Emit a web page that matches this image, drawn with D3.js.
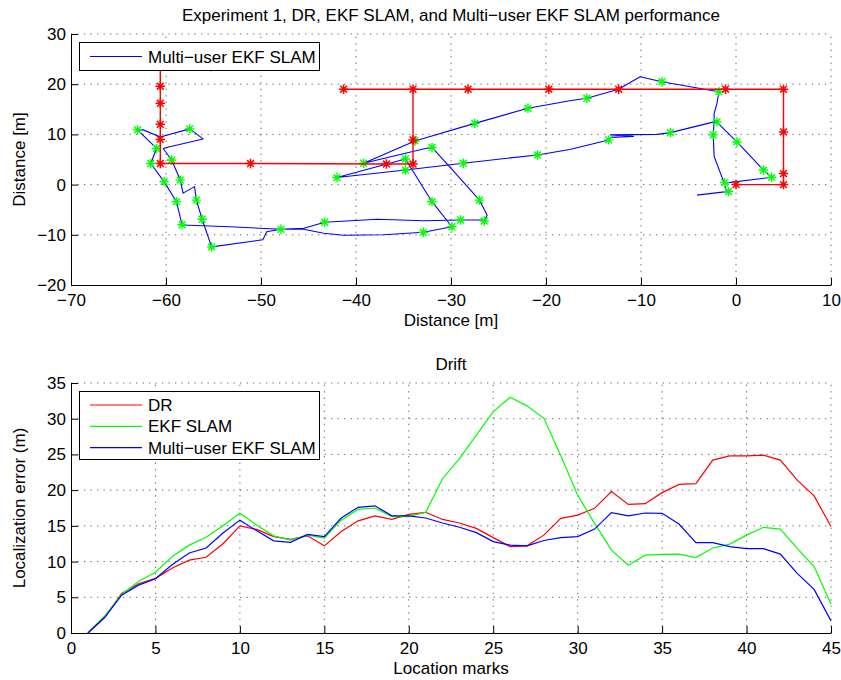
<!DOCTYPE html>
<meta charset="utf-8">
<style>
body { margin: 0; background: #fff; }
svg text { font-family: "Liberation Sans", Arial, Helvetica, sans-serif; font-size: 17px; fill: #000; }
.grid line { stroke: #000; stroke-opacity: 0.6; stroke-dasharray: 1.3,5.2; }
.axis path, .axis line { stroke: #000; stroke-width: 1; }
.axis text { font-size: 17px; }
</style>
<body>
<div id="chart"></div>
<script src="https://d3js.org/d3.v7.min.js"></script>
<script>
// ---- top plot: ground truth (red), multi-user EKF SLAM track (blue), location marks (green)
var truthX = [0, 5, 5, 5, 5, -1.1, -12.35, -19.7, -28.2, -34, -41.3, -34, -34, -34, -36.8, -51.1, -60.6, -60.6, -60.6, -60.6, -60.6, -60.6, -55.3];
var truthY = [0, 0, 2.2, 10.5, 19, 19, 19, 19, 19, 19, 19, 19, 8.9, 4.1, 4.1, 4.2, 4.2, 9.0, 12.0, 16.2, 19.6, 23.5, 23.5];
var truthMarkers = [true, true, true, true, true, true, true, true, true, true, true, false, true, true, true, true, true, true, true, true, true, false, true];

var pathX = [-1.2, 3.75, 2.9, 0.1, -2.1, -6.9, -8.3, -13.2, -10.8, -13.2, -13.4, -17.5, -20.9, -24.8, -28.7, -34.8, -42.0,
  -34.8, -32.0, -29.9, -32.9, -37.1, -41.3, -43.4, -45.5, -47.9, -53.3, -58.3, -58.9, -60.2, -61.6, -61.0, -63.0,
  -62.4, -60.6, -57.5, -56.1, -59.6, -60.3, -59.4, -58.5, -58.2, -57.0, -56.8, -56.2, -55.2, -49.8, -49.4, -47.9,
  -45.5, -43.3, -37.8, -32.9, -29.05, -26.4, -26.2, -27.0, -30.3, -32.0, -32.7, -39.2, -33.8, -27.5, -21.9, -17.5,
  -15.7, -12.35, -10.1, -7.8, -1.8, -2.0, -2.3, -2.3, -2.4, -2.3, -1.3, -1.0, -4.1];
var pathY = [0.3, 1.45, 2.9, 8.5, 12.6, 10.35, 10.0, 9.9, 9.6, 9.4, 8.9, 7.0, 5.9, 5.1, 4.25, 2.9, 1.4,
  5.1, -3.4, -8.4, -9.5, -10.0, -10.1, -9.7, -8.9, -8.9, -8.4, -8.05, -3.4, 0.6, 4.2, 7.2, 10.9,
  10.9, 9.5, 11.1, 9.1, 7.55, 7.2, 4.9, 0.9, -1.7, -0.4, -3.1, -6.9, -12.4, -11.0, -9.4, -8.9,
  -8.7, -7.5, -6.9, -7.2, -7.05, -7.05, -6.05, -3.1, 3.9, 7.4, 7.2, 4.25, 8.7, 12.2, 15.2, 16.7,
  17.2, 19.0, 21.5, 20.5, 18.5, 16.2, 14.2, 12.5, 9.9, 5.6, 0.6, -1.4, -2.1];

var markX = [-1.2, 3.75, 2.9, 0.1, -2.0, -6.9, -13.4, -20.9, -28.7, -34.8, -42.0, -34.8, -32.0, -29.9, -32.9,
  -47.9, -58.3, -58.9, -60.2, -61.6, -61.0, -63.0, -57.5, -59.4, -58.5, -56.8, -56.2, -55.2, -43.3, -29.0,
  -26.5, -27.0, -32.0, -39.2, -33.8, -27.5, -21.9, -15.7, -7.8, -1.8, -2.4, -0.8];
var markY = [0.4, 1.45, 2.9, 8.5, 12.5, 10.35, 8.9, 5.9, 4.25, 2.9, 1.4, 5.1, -3.4, -8.4, -9.5,
  -8.9, -8.0, -3.4, 0.6, 4.2, 7.2, 10.9, 11.1, 4.9, 0.9, -3.1, -6.9, -12.4, -7.5, -7.05,
  -7.25, -3.1, 7.4, 4.25, 8.7, 12.2, 15.2, 17.2, 20.5, 18.5, 9.9, -1.4];

var topXTicks = [-70, -60, -50, -40, -30, -20, -10, 0, 10];
var topYTicks = [-20, -10, 0, 10, 20, 30];

// ---- bottom plot: localization error per location mark
var marks = [1, 2, 3, 4, 5, 6, 7, 8, 9, 10, 11, 12, 13, 14, 15, 16, 17, 18, 19, 20, 21, 22, 23,
  24, 25, 26, 27, 28, 29, 30, 31, 32, 33, 34, 35, 36, 37, 38, 39, 40, 41, 42, 43, 44, 45];
var drErr = [0, 2.2, 5.55, 6.9, 7.65, 9.1, 10.2, 10.6, 12.5, 15.0, 14.5, 13.5, 13.1, 13.6, 12.2, 14.2, 15.7, 16.4,
  15.9, 16.6, 16.9, 15.9, 15.4, 14.65, 13.35, 12.1, 12.2, 13.7, 16.05, 16.5, 17.45, 19.8, 18.0, 18.1, 19.65,
  20.8, 20.9, 24.2, 24.8, 24.8, 24.9, 24.2, 21.4, 19.2, 14.9];
var ekfErr = [0, 2.4, 5.4, 7.2, 8.5, 10.7, 12.3, 13.4, 15.0, 16.75, 15.1, 13.6, 13.0, 13.7, 13.3, 15.8, 17.3, 17.5,
  16.3, 16.3, 16.9, 21.6, 24.4, 27.7, 31.0, 33.0, 31.8, 30.05, 24.8, 19.3, 15.35, 11.6, 9.5, 10.9, 11.0,
  11.05, 10.55, 11.9, 12.45, 13.7, 14.8, 14.55, 11.85, 9.3, 4.05];
var multiErr = [0, 2.2, 5.3, 6.7, 7.6, 9.6, 11.2, 11.9, 14.0, 15.8, 14.3, 12.9, 12.7, 13.8, 13.5, 16.1, 17.6, 17.8,
  16.4, 16.4, 16.1, 15.4, 14.8, 14.05, 12.8, 12.3, 12.2, 12.95, 13.35, 13.5, 14.55, 16.85, 16.4, 16.8, 16.75,
  15.25, 12.65, 12.65, 12.1, 11.8, 11.8, 11.05, 8.35, 6.1, 1.7];

var botXTicks = [0, 5, 10, 15, 20, 25, 30, 35, 40, 45];
var botYTicks = [0, 5, 10, 15, 20, 25, 30, 35];

var W = 841, H = 680, L = 71, R = 831;

var svg = d3.select("#chart").append("svg")
    .attr("width", W)
    .attr("height", H);

var x1 = d3.scaleLinear().domain([-70, 10]).range([L, R]);
var y1 = d3.scaleLinear().domain([-20, 30]).range([285, 34]);
var x2 = d3.scaleLinear().domain([0, 45]).range([L, R]);
var y2 = d3.scaleLinear().domain([0, 35]).range([633, 383]);

function frame(x, y, xt, yt) {
  var g = svg.append("g");
  var grid = g.append("g").attr("class", "grid");
  grid.selectAll("line.v").data(xt.slice(1)).enter().append("line")
      .attr("x1", function(d) { return x(d); }).attr("x2", function(d) { return x(d); })
      .attr("y1", y.range()[0]).attr("y2", y.range()[1]);
  grid.selectAll("line.h").data(yt.slice(1)).enter().append("line")
      .attr("x1", x.range()[0]).attr("x2", x.range()[1])
      .attr("y1", function(d) { return y(d); }).attr("y2", function(d) { return y(d); });

  g.append("g").attr("class", "axis")
      .attr("transform", "translate(0," + y.range()[0] + ")")
      .call(d3.axisBottom(x).tickValues(xt).tickSizeInner(-7).tickSizeOuter(0).tickPadding(9))
      .call(function(a) { a.selectAll("text").attr("font-family", null).attr("font-size", null); });
  g.append("g").attr("class", "axis")
      .attr("transform", "translate(" + x.range()[0] + ",0)")
      .call(d3.axisLeft(y).tickValues(yt).tickSizeInner(-7).tickSizeOuter(0).tickPadding(5))
      .call(function(a) { a.selectAll("text").attr("font-family", null).attr("font-size", null); });
  return g;
}

// matlab '*' marker
function star(cx, cy) {
  var r = 4.7, d = 3.4;
  return "M" + (cx - r) + "," + cy + "h" + (2 * r) +
         "M" + cx + "," + (cy - r) + "v" + (2 * r) +
         "M" + (cx - d) + "," + (cy - d) + "l" + (2 * d) + "," + (2 * d) +
         "M" + (cx - d) + "," + (cy + d) + "l" + (2 * d) + "," + (-2 * d);
}

// ---------- top plot
frame(x1, y1, topXTicks, topYTicks);

var track = d3.line()
    .x(function(i) { return x1(pathX[i]); })
    .y(function(i) { return y1(pathY[i]); });

svg.append("path")
    .attr("d", track(d3.range(pathX.length)))
    .attr("fill", "none")
    .attr("stroke", "#0000ff")
    .attr("stroke-width", 1.1)
    .attr("stroke-linejoin", "round");

svg.append("g").selectAll("path").data(d3.range(markX.length)).enter().append("path")
    .attr("d", function(i) { return star(x1(markX[i]), y1(markY[i])); })
    .attr("stroke", "#00ff00")
    .attr("stroke-width", 1.4)
    .attr("fill", "none");

var truthLine = d3.line()
    .x(function(i) { return x1(truthX[i]); })
    .y(function(i) { return y1(truthY[i]); });

svg.append("path")
    .attr("d", truthLine(d3.range(truthX.length)))
    .attr("fill", "none")
    .attr("stroke", "#ff0000")
    .attr("stroke-width", 1.4);

var truthIdx = d3.range(truthX.length).filter(function(i) { return truthMarkers[i]; });
svg.append("g").selectAll("path").data(truthIdx).enter().append("path")
    .attr("d", function(i) { return star(x1(truthX[i]), y1(truthY[i])); })
    .attr("stroke", "#ff0000")
    .attr("stroke-width", 1.5)
    .attr("fill", "none");

// legend (top)
var lg1 = svg.append("g");
lg1.append("rect").attr("x", 79.5).attr("y", 42.5).attr("width", 240).attr("height", 28)
    .attr("fill", "#fff").attr("stroke", "#000");
lg1.append("line").attr("x1", 90).attr("x2", 142).attr("y1", 56.5).attr("y2", 56.5)
    .attr("stroke", "#0000ff").attr("stroke-width", 1.1);
lg1.append("text").attr("x", 148).attr("y", 62.5).text("Multi\u2212user EKF SLAM");

svg.append("text").attr("x", (L + R) / 2).attr("y", 21).attr("text-anchor", "middle")
    .text("Experiment 1, DR, EKF SLAM, and Multi\u2212user EKF SLAM performance");
svg.append("text").attr("x", (L + R) / 2).attr("y", 326).attr("text-anchor", "middle")
    .text("Distance [m]");
svg.append("text").attr("transform", "translate(25," + (34 + 285) / 2 + ") rotate(-90)")
    .attr("text-anchor", "middle").text("Distance [m]");

// ---------- bottom plot
frame(x2, y2, botXTicks, botYTicks);

var series = [
  { name: "DR", values: drErr, color: "#ff0000" },
  { name: "EKF SLAM", values: ekfErr, color: "#00ff00" },
  { name: "Multi\u2212user EKF SLAM", values: multiErr, color: "#0000ff" }
];

series.forEach(function(s) {
  var line = d3.line()
      .x(function(d, i) { return x2(marks[i]); })
      .y(function(d) { return y2(d); });
  svg.append("path")
      .attr("d", line(s.values))
      .attr("fill", "none")
      .attr("stroke", s.color)
      .attr("stroke-width", 1.2);
});

var lg2 = svg.append("g");
lg2.append("rect").attr("x", 79.5).attr("y", 391.5).attr("width", 240).attr("height", 68)
    .attr("fill", "#fff").attr("stroke", "#000");
series.forEach(function(s, i) {
  var cy = 405 + i * 21.3;
  lg2.append("line").attr("x1", 90).attr("x2", 142).attr("y1", cy).attr("y2", cy)
      .attr("stroke", s.color).attr("stroke-width", 1.2);
  lg2.append("text").attr("x", 148).attr("y", cy + 6).text(s.name);
});

svg.append("text").attr("x", (L + R) / 2).attr("y", 370).attr("text-anchor", "middle").text("Drift");
svg.append("text").attr("x", (L + R) / 2).attr("y", 674).attr("text-anchor", "middle").text("Location marks");
svg.append("text").attr("transform", "translate(25," + (383 + 633) / 2 + ") rotate(-90)")
    .attr("text-anchor", "middle").text("Localization error (m)");
</script>
</body>
